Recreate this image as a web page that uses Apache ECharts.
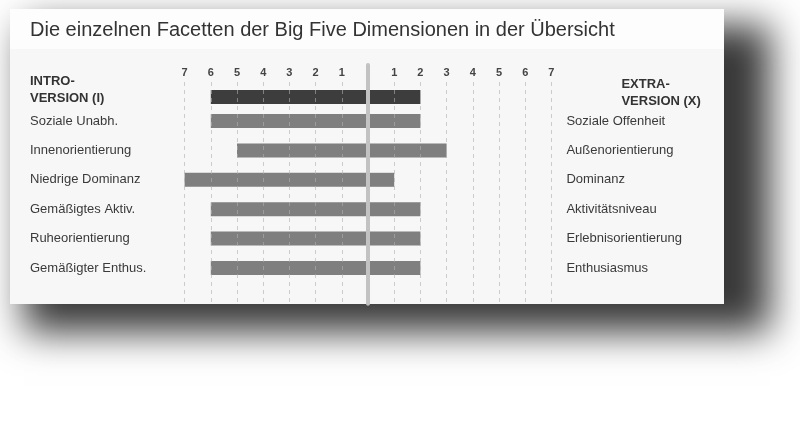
<!DOCTYPE html>
<html>
<head>
<meta charset="utf-8">
<script src="https://cdn.jsdelivr.net/npm/echarts@6/dist/echarts.min.js"></script>
<style>
  html, body { margin: 0; padding: 0; background: #fff; }
  #chart { width: 800px; height: 422px; }
</style>
</head>
<body>
<div id="chart"></div>
<script>
// data
const titleText = 'Die einzelnen Facetten der Big Five Dimensionen in der Übersicht';
const dimLeft = ['INTRO-\nVERSION (I)'];
const dimRight = ['EXTRA-\nVERSION (X)'];
const dimIntro = [6];
const dimExtra = [2];
const facetsLeft = ['Soziale Unabh.', 'Innenorientierung', 'Niedrige Dominanz', 'Gemäßigtes Aktiv.', 'Ruheorientierung', 'Gemäßigter Enthus.'];
const facetsRight = ['Soziale Offenheit', 'Außenorientierung', 'Dominanz', 'Aktivitätsniveau', 'Erlebnisorientierung', 'Enthusiasmus'];
const facetIntro = [6, 5, 7, 6, 6, 6];
const facetExtra = [2, 3, 1, 2, 2, 2];
const scaleMax = 7;

const font = "'Liberation Sans', Arial, sans-serif";
const gLeft = 184.6, gRight = 248.6;

const chart = echarts.init(document.getElementById('chart'), null, { renderer: 'canvas' });

function catAxis(gridIndex, data, pos, extra) {
  return Object.assign({
    type: 'category', gridIndex: gridIndex, data: data, position: pos, inverse: true,
    axisLine: { show: false }, axisTick: { show: false }, splitLine: { show: false },
    axisLabel: { align: 'left', margin: pos === 'left' ? gLeft - 30 : 15, color: '#3a3a3a', fontSize: 13, fontFamily: font }
  }, extra || {});
}

const hiddenX = (gi) => ({ type: 'value', gridIndex: gi, min: -scaleMax, max: scaleMax, interval: 1, show: false });

// header labels: two text lines plus a blank spacer line so the 2nd line sits on the bar
const headerRich = {
  h: { fontSize: 13, fontWeight: 'bold', color: '#333', fontFamily: font, lineHeight: 17 },
  s: { fontSize: 13, lineHeight: 14 },
  t: { fontSize: 13, lineHeight: 8 }
};
const headerFmt = (spacer) => (v) => v.split('\n').map(l => '{h|' + l + '}').join('\n') + '\n{' + spacer + '| }';

chart.setOption({
  animation: false,
  title: {
    text: titleText, left: 30, top: 20, padding: 0,
    textStyle: { fontFamily: font, fontSize: 20, fontWeight: 'normal', color: '#333' }
  },
  graphic: [
    { type: 'rect', z: -10, shape: { x: 24 - 2000, y: 25, width: 746, height: 307 },
      style: { fill: '#000', shadowColor: 'rgba(0,0,0,0.78)', shadowBlur: 36, shadowOffsetX: 2000 } },
    { type: 'rect', z: -9, shape: { x: 10, y: 9, width: 714, height: 295 }, style: { fill: '#f7f7f7' } },
    { type: 'rect', z: -8, shape: { x: 10, y: 9, width: 714, height: 40 }, style: { fill: '#fdfdfd' } }
  ],
  grid: [
    { left: gLeft, right: gRight, top: 65, bottom: 118.3 },        // center line
    { left: gLeft, right: gRight, top: 82, bottom: 118.3 },        // scale + grid lines
    { left: gLeft, right: gRight, top: 88, height: 18 },           // dimension row
    { left: gLeft, right: gRight, top: 106.3, height: 176.4 }      // facets
  ],
  xAxis: [
    hiddenX(0),
    {
      type: 'value', gridIndex: 1, position: 'top', min: -scaleMax, max: scaleMax, interval: 1, z: 4,
      axisLine: { show: false }, axisTick: { show: false },
      axisLabel: {
        margin: 4, color: '#444', fontSize: 11, fontWeight: 'bold', fontFamily: font,
        formatter: v => v === 0 ? '' : String(Math.abs(v))
      },
      splitLine: { show: true, lineStyle: { color: 'rgba(175,175,175,0.6)', width: 1, type: [4, 4] } }
    },
    hiddenX(2),
    hiddenX(3)
  ],
  yAxis: [
    {
      type: 'value', gridIndex: 0, z: 5,
      axisLine: { show: true, onZero: true, lineStyle: { color: '#c2c2c2', width: 4 } },
      axisTick: { show: false }, axisLabel: { show: false }, splitLine: { show: false }
    },
    { type: 'value', gridIndex: 1, show: false },
    catAxis(2, dimLeft, 'left', {
      axisLabel: { align: 'left', margin: gLeft - 30, formatter: headerFmt('s'), rich: headerRich }
    }),
    catAxis(2, dimRight, 'right', {
      axisLabel: { align: 'left', margin: 15, padding: [0, 0, 0, 55], formatter: headerFmt('t'), rich: headerRich }
    }),
    catAxis(3, facetsLeft, 'left'),
    catAxis(3, facetsRight, 'right')
  ],
  series: [
    { type: 'bar', xAxisIndex: 2, yAxisIndex: 2, stack: 'dim', barWidth: 14,
      itemStyle: { color: '#3d3d3d' }, data: dimIntro.map(v => -v) },
    { type: 'bar', xAxisIndex: 2, yAxisIndex: 2, stack: 'dim', barWidth: 14,
      itemStyle: { color: '#3d3d3d' }, data: dimExtra },
    { type: 'bar', xAxisIndex: 3, yAxisIndex: 4, stack: 'facet', barWidth: 14,
      itemStyle: { color: '#7f7f7f' }, data: facetIntro.map(v => -v) },
    { type: 'bar', xAxisIndex: 3, yAxisIndex: 4, stack: 'facet', barWidth: 14,
      itemStyle: { color: '#7f7f7f' }, data: facetExtra }
  ]
});
</script>
</body>
</html>
